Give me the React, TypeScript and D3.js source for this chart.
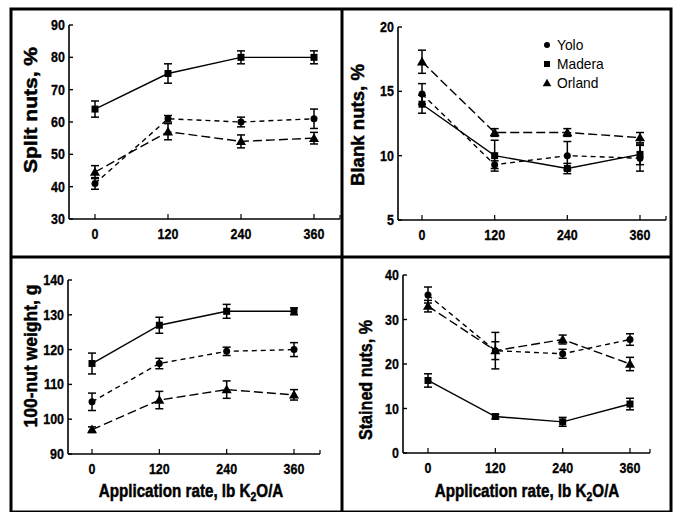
import React, { useEffect, useRef } from 'react';
import * as d3 from 'd3';

// application rates, lb K2O/A
const rates = [0, 120, 240, 360];
const xTickLabels = ['0', '120', '240', '360'];
const varieties = ['Yolo', 'Madera', 'Orland'];

// Split nuts, %
const splitYolo = [41, 61, 60, 61];
const splitYoloErr = [1.8, 1, 1.5, 3];
const splitMadera = [64, 75, 80, 80];
const splitMaderaErr = [2.5, 3, 2, 2];
const splitOrland = [44.5, 57, 54, 55];
const splitOrlandErr = [2, 2.5, 2, 1.8];

// Blank nuts, %
const blankYolo = [14.8, 9.3, 10, 9.8];
const blankYoloErr = [0.8, 0.3, 1.1, 1];
const blankMadera = [14, 10, 9, 10.1];
const blankMaderaErr = [0.7, 1.2, 0.4, 0.8];
const blankOrland = [17.3, 11.8, 11.8, 11.4];
const blankOrlandErr = [0.9, 0.3, 0.3, 0.4];

// 100-nut weight, g
const weightYolo = [105, 116, 119.5, 120];
const weightYoloErr = [2.5, 1.5, 1.2, 2];
const weightMadera = [116, 127, 131, 131];
const weightMaderaErr = [3, 2.3, 2, 1];
const weightOrland = [97, 105.5, 108.5, 107];
const weightOrlandErr = [0.8, 2.5, 2.5, 1.5];

// Stained nuts, %
const stainYolo = [35.5, 23, 22.3, 25.5];
const stainYoloErr = [1.8, 2, 1, 1.3];
const stainMadera = [16.3, 8.2, 7, 11];
const stainMaderaErr = [1.5, 0.5, 1, 1.3];
const stainOrland = [33, 23, 25.5, 20];
const stainOrlandErr = [1.3, 4.1, 1, 1.5];

const FONT = '"Liberation Sans", Arial, sans-serif';

type Panel = {
  title: string;
  titleLen: number;
  domain: [number, number];
  ticks: number[];
  series: { name: string; values: number[]; err: number[] }[];
  axisX: number; x0: number; x360: number; xEnd: number; yTop: number; yBot: number;
  titleX: number; titleY: number;
  xTitle: boolean; xTitleX: number;
  legend: boolean;
};

const panels: Panel[] = [
  {
    title: 'Split nuts, %', titleLen: 126, domain: [30, 90], ticks: d3.range(30, 91, 10),
    series: [
      { name: 'Yolo', values: splitYolo, err: splitYoloErr },
      { name: 'Madera', values: splitMadera, err: splitMaderaErr },
      { name: 'Orland', values: splitOrland, err: splitOrlandErr },
    ],
    axisX: 69, x0: 95, x360: 314, xEnd: 340, yTop: 25, yBot: 219,
    titleX: 37, titleY: 110, xTitle: false, xTitleX: 0, legend: false,
  },
  {
    title: 'Blank nuts, %', titleLen: 122, domain: [5, 20], ticks: [5, 10, 15, 20],
    series: [
      { name: 'Yolo', values: blankYolo, err: blankYoloErr },
      { name: 'Madera', values: blankMadera, err: blankMaderaErr },
      { name: 'Orland', values: blankOrland, err: blankOrlandErr },
    ],
    axisX: 398, x0: 422, x360: 640, xEnd: 666, yTop: 27, yBot: 220,
    titleX: 364, titleY: 125, xTitle: false, xTitleX: 0, legend: true,
  },
  {
    title: '100-nut weight, g', titleLen: 143, domain: [90, 140], ticks: d3.range(90, 141, 10),
    series: [
      { name: 'Yolo', values: weightYolo, err: weightYoloErr },
      { name: 'Madera', values: weightMadera, err: weightMaderaErr },
      { name: 'Orland', values: weightOrland, err: weightOrlandErr },
    ],
    axisX: 68, x0: 92, x360: 294, xEnd: 320, yTop: 280, yBot: 454,
    titleX: 37, titleY: 356, xTitle: true, xTitleX: 191, legend: false,
  },
  {
    title: 'Stained nuts, %', titleLen: 120, domain: [0, 40], ticks: d3.range(0, 41, 10),
    series: [
      { name: 'Yolo', values: stainYolo, err: stainYoloErr },
      { name: 'Madera', values: stainMadera, err: stainMaderaErr },
      { name: 'Orland', values: stainOrland, err: stainOrlandErr },
    ],
    axisX: 403, x0: 428, x360: 630, xEnd: 650, yTop: 275, yBot: 453,
    titleX: 372, titleY: 380, xTitle: true, xTitleX: 527, legend: false,
  },
];

const dashes: Record<string, string> = { Yolo: '5,4', Madera: 'none', Orland: '9,4' };

const drawMarker = (g: any, name: string, x: number, y: number, s: number) => {
  if (name === 'Yolo') {
    g.append('circle').attr('cx', x).attr('cy', y).attr('r', s / 2).attr('fill', '#000');
  } else if (name === 'Madera') {
    g.append('rect').attr('x', x - s / 2).attr('y', y - s / 2).attr('width', s).attr('height', s).attr('fill', '#000');
  } else {
    const sym = d3.symbol(d3.symbolTriangle, s * s * 0.9)();
    g.append('path').attr('d', sym).attr('transform', `translate(${x},${y + 0.8})`).attr('fill', '#000');
  }
};

// bold, squeezed text like the condensed face of the original
const label = (g: any, x: number, y: number, txt: string, anchor: string, size = 14.5, sx = 0.86) =>
  g.append('text').attr('transform', `translate(${x},${y}) scale(${sx},1)`)
    .attr('text-anchor', anchor).attr('font-family', FONT).attr('font-weight', 'bold')
    .attr('font-size', size).attr('stroke', '#000').attr('stroke-width', 0.3).text(txt);

const App = () => {
  const ref = useRef<SVGSVGElement>(null);

  useEffect(() => {
    const svg = d3.select(ref.current);
    svg.selectAll('*').remove();

    svg.append('rect').attr('width', 675).attr('height', 512).attr('fill', '#fff');

    panels.forEach(p => {
      const x = d3.scaleLinear().domain([0, 360]).range([p.x0, p.x360]);
      const y = d3.scaleLinear().domain(p.domain).range([p.yBot, p.yTop]);
      const g = svg.append('g');

      // y axis
      g.append('line').attr('x1', p.axisX).attr('x2', p.axisX).attr('y1', p.yTop).attr('y2', p.yBot)
        .attr('stroke', '#000').attr('stroke-width', 1.6);
      p.ticks.forEach(t => {
        g.append('line').attr('x1', p.axisX).attr('x2', p.axisX + 4).attr('y1', y(t)).attr('y2', y(t))
          .attr('stroke', '#000').attr('stroke-width', 1.4);
        label(g, p.axisX - 4, y(t) + 5, String(t), 'end');
      });

      // x axis
      g.append('line').attr('x1', p.axisX).attr('x2', p.xEnd).attr('y1', p.yBot).attr('y2', p.yBot)
        .attr('stroke', '#000').attr('stroke-width', 1.6);
      g.append('line').attr('x1', p.xEnd).attr('x2', p.xEnd).attr('y1', p.yBot).attr('y2', p.yBot - 4)
        .attr('stroke', '#000').attr('stroke-width', 1.2);
      rates.forEach((r, i) => {
        g.append('line').attr('x1', x(r)).attr('x2', x(r)).attr('y1', p.yBot).attr('y2', p.yBot - 5)
          .attr('stroke', '#000').attr('stroke-width', 1.2);
        label(g, x(r), p.yBot + 20, xTickLabels[i], 'middle');
      });

      // y title
      g.append('text').attr('transform', `translate(${p.titleX},${p.titleY}) rotate(-90)`)
        .attr('x', -p.titleLen / 2).attr('textLength', p.titleLen).attr('lengthAdjust', 'spacingAndGlyphs')
        .attr('font-family', FONT).attr('font-weight', 'bold').attr('stroke', '#000').attr('stroke-width', 0.5)
        .attr('font-size', 19).text(p.title);

      if (p.xTitle) {
        const t = g.append('text').attr('transform', `translate(${p.xTitleX},497) scale(0.8,1)`)
          .attr('text-anchor', 'middle').attr('font-family', FONT).attr('font-weight', 'bold')
          .attr('stroke', '#000').attr('stroke-width', 0.5).attr('font-size', 19);
        t.append('tspan').text('Application rate, lb K');
        t.append('tspan').attr('font-size', 13).attr('dy', 4).text('2');
        t.append('tspan').attr('dy', -4).text('O/A');
      }

      // series
      const line = d3.line<number>().x((_, i) => x(rates[i])).y(v => y(v));
      p.series.forEach(s => {
        g.append('path').attr('d', line(s.values)).attr('fill', 'none').attr('stroke', '#000')
          .attr('stroke-width', 1.4).attr('stroke-dasharray', dashes[s.name]);
        s.values.forEach((v, i) => {
          const cx = x(rates[i]);
          const lo = y(v - s.err[i]);
          const hi = y(v + s.err[i]);
          g.append('line').attr('x1', cx).attr('x2', cx).attr('y1', lo).attr('y2', hi)
            .attr('stroke', '#000').attr('stroke-width', 1.5);
          [lo, hi].forEach(yy => {
            g.append('line').attr('x1', cx - 4).attr('x2', cx + 4).attr('y1', yy).attr('y2', yy)
              .attr('stroke', '#000').attr('stroke-width', 1.5);
          });
          drawMarker(g, s.name, cx, y(v), 7);
        });
      });

      if (p.legend) {
        varieties.forEach((name, i) => {
          const ly = 45 + i * 19;
          drawMarker(g, name, 547, ly, 6);
          g.append('text').attr('transform', `translate(557,${ly + 5}) scale(0.92,1)`).attr('font-family', FONT)
            .attr('font-size', 15).text(name);
        });
      }
    });

    // frame and dividers
    svg.append('rect').attr('x', 11).attr('y', 9).attr('width', 660).attr('height', 503)
      .attr('fill', 'none').attr('stroke', '#000').attr('stroke-width', 3);
    svg.append('line').attr('x1', 342).attr('x2', 342).attr('y1', 9).attr('y2', 512)
      .attr('stroke', '#000').attr('stroke-width', 3);
    svg.append('line').attr('x1', 11).attr('x2', 671).attr('y1', 257).attr('y2', 257)
      .attr('stroke', '#000').attr('stroke-width', 3);
  }, []);

  return (
    <svg ref={ref} width={675} height={512} style={{ position: 'absolute', left: 0, top: 0 }} />
  );
};

export default App;
